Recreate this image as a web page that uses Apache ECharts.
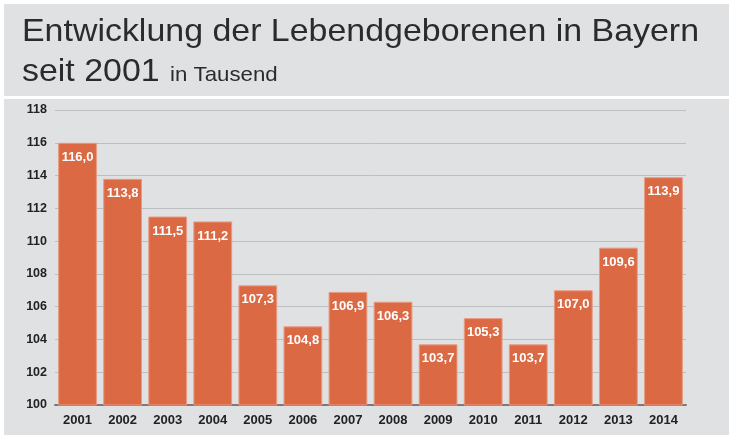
<!DOCTYPE html>
<html>
<head>
<meta charset="utf-8">
<script src="https://cdn.jsdelivr.net/npm/echarts@6/dist/echarts.min.js"></script>
<style>
html,body{margin:0;padding:0;background:#fff;}
#chart{width:729px;height:437px;}
</style>
</head>
<body>
<div id="chart"></div>
<script>
var years = ['2001','2002','2003','2004','2005','2006','2007','2008','2009','2010','2011','2012','2013','2014'];
var births = [116.0, 113.8, 111.5, 111.2, 107.3, 104.8, 106.9, 106.3, 103.7, 105.3, 103.7, 107.0, 109.6, 113.9];
var yMin = 100, yMax = 118, yStep = 2;

var font = '"Liberation Sans", Arial, sans-serif';
var chart = echarts.init(document.getElementById('chart'));
var option = {
    backgroundColor: '#ffffff',
    animation: false,
    graphic: [
        // Kopfbereich
        { type: 'rect', z: -10, shape: { x: 4, y: 4, width: 725, height: 92 }, style: { fill: '#e0e1e3' } },
        // Diagrammbereich
        { type: 'rect', z: -10, shape: { x: 4, y: 99, width: 725, height: 336 }, style: { fill: '#e0e1e3' } },
        // Titel (leicht in die Breite gezogen wie im Original)
        {
            type: 'text', x: 22, y: 16.5, scaleX: 1.06, z: 10,
            style: { x: 0, y: 0, text: 'Entwicklung der Lebendgeborenen in Bayern', fill: '#2b2b2b', font: '32px ' + font, verticalAlign: 'top' }
        },
        {
            type: 'text', x: 22, y: 56, scaleX: 1.06, z: 10,
            style: { x: 0, y: 0, text: 'seit 2001', fill: '#2b2b2b', font: '32px ' + font, verticalAlign: 'top' }
        },
        {
            type: 'text', x: 170, y: 64.5, scaleX: 1.06, z: 10,
            style: { x: 0, y: 0, text: 'in Tausend', fill: '#2b2b2b', font: '21px ' + font, verticalAlign: 'top' }
        }
    ],
    grid: { left: 55, right: 43, top: 110, bottom: 32 },
    xAxis: {
        type: 'category',
        data: years,
        axisLine: { lineStyle: { color: '#7a7a7a', width: 2 } },
        axisTick: { show: false },
        axisLabel: { color: '#222', fontWeight: 'bold', fontSize: 13, fontFamily: font, margin: 9 }
    },
    yAxis: {
        type: 'value',
        min: yMin, max: yMax, interval: yStep,
        axisLine: { show: false },
        axisTick: { show: false },
        axisLabel: { color: '#222', fontWeight: 'bold', fontSize: 12.5, fontFamily: font, margin: 8 },
        splitLine: { lineStyle: { color: '#bdbec0', width: 1 } }
    },
    series: [{
        type: 'bar',
        data: births,
        barWidth: '86%',
        itemStyle: { color: '#db6944', borderColor: '#e99a80', borderWidth: 1 },
        label: {
            show: true,
            position: 'insideTop',
            distance: 8,
            color: '#fff',
            fontWeight: 'bold',
            fontSize: 13,
            fontFamily: font,
            formatter: function (p) { return p.value.toFixed(1).replace('.', ','); }
        }
    }]
};
chart.setOption(option);
</script>
</body>
</html>
